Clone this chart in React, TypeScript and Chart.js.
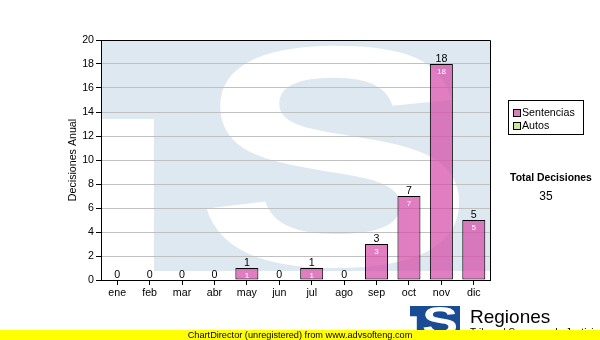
import React, { useEffect, useRef } from 'react';
import { Chart, registerables } from 'chart.js';

Chart.register(...registerables);

// ---- data ----
const MONTHS = ['ene', 'feb', 'mar', 'abr', 'may', 'jun', 'jul', 'ago', 'sep', 'oct', 'nov', 'dic'];
const SENTENCIAS = [0, 0, 0, 0, 1, 0, 1, 0, 3, 7, 18, 5];
const AUTOS = [0, 0, 0, 0, 0, 0, 0, 0, 0, 0, 0, 0];
const SERIES_NAMES = ['Sentencias', 'Autos'];
const Y_MIN = 0;
const Y_MAX = 20;
const Y_STEP = 2;
const Y_TITLE = 'Decisiones Anual';
const TOTAL_LABEL = 'Total Decisiones';
const BRAND = 'Regiones';
const BRAND_SUB = 'Tribunal Supremo de Justicia';
const FOOTER = 'ChartDirector (unregistered) from www.advsofteng.com';

const FONT = '"Liberation Sans", Arial, sans-serif';
const PINK_BAR = 'rgba(212,76,169,0.72)';
const PINK_SWATCH = 'rgb(221,122,192)';
const GREEN_SWATCH = 'rgb(206,232,155)';
const WATERMARK_BLUE = 'rgb(222,232,241)';
const LOGO_BLUE = 'rgb(26,76,150)';

function drawS(ctx: CanvasRenderingContext2D, x: number, y: number, w: number, h: number) {
  ctx.save();
  ctx.font = `bold 100px ${FONT}`;
  ctx.textAlign = 'left';
  ctx.textBaseline = 'alphabetic';
  const m = ctx.measureText('S');
  const bw = m.actualBoundingBoxLeft + m.actualBoundingBoxRight;
  const bh = m.actualBoundingBoxAscent + m.actualBoundingBoxDescent;
  ctx.translate(x, y);
  ctx.scale(w / bw, h / bh);
  ctx.fillStyle = '#ffffff';
  ctx.fillText('S', m.actualBoundingBoxLeft, m.actualBoundingBoxAscent);
  ctx.restore();
}

function drawLogo(ctx: CanvasRenderingContext2D, x: number, y: number, w: number, h: number, blue: string) {
  ctx.save();
  ctx.fillStyle = blue;
  ctx.fillRect(x, y, w, h);
  ctx.fillStyle = '#ffffff';
  ctx.fillRect(x, y + 0.342 * h, 0.136 * w, h * 0.658);
  drawS(ctx, x + 0.262 * w, y + 0.022 * h, 0.661 * w, 0.965 * h);
  ctx.restore();
}

const decorPlugin = {
  id: 'decor',
  beforeDraw(chart: any) {
    const { ctx, chartArea: a } = chart;
    ctx.save();
    ctx.fillStyle = '#ffffff';
    ctx.fillRect(0, 0, chart.width, chart.height);
    ctx.beginPath();
    ctx.rect(a.left, a.top, a.right - a.left, a.bottom - a.top);
    ctx.clip();
    const w = a.right - a.left;
    const h = (a.bottom - a.top) * 0.9625;
    drawLogo(ctx, a.left, a.top, w, h, WATERMARK_BLUE);
    ctx.restore();
  },
  afterDatasetsDraw(chart: any) {
    const { ctx } = chart;
    const meta = chart.getDatasetMeta(0);
    ctx.save();
    ctx.textAlign = 'center';
    ctx.textBaseline = 'alphabetic';
    meta.data.forEach((bar: any, i: number) => {
      const v = SENTENCIAS[i];
      ctx.fillStyle = '#000000';
      ctx.font = `10.67px ${FONT}`;
      ctx.fillText(String(v), bar.x, bar.y - 2);
      if (v > 0) {
        ctx.fillStyle = '#ffffff';
        ctx.font = `8px ${FONT}`;
        ctx.fillText(String(v), bar.x, bar.y + 10);
      }
    });
    ctx.restore();
  },
  afterDraw(chart: any) {
    const { ctx, chartArea: a } = chart;
    ctx.save();
    // plot frame (top & right)
    ctx.strokeStyle = '#000000';
    ctx.lineWidth = 1;
    ctx.beginPath();
    ctx.moveTo(a.left, a.top + 0.5);
    ctx.lineTo(a.right + 0.5, a.top + 0.5);
    ctx.lineTo(a.right + 0.5, a.bottom);
    ctx.stroke();

    // y title
    ctx.save();
    ctx.translate(73, (a.top + a.bottom) / 2);
    ctx.rotate(-Math.PI / 2);
    ctx.fillStyle = '#000000';
    ctx.font = `10.67px ${FONT}`;
    ctx.textAlign = 'center';
    ctx.textBaseline = 'middle';
    ctx.fillText(Y_TITLE, 0, 0);
    ctx.restore();

    // legend
    ctx.strokeStyle = '#000000';
    ctx.strokeRect(508.5, 100.5, 75, 34);
    const swatches = [PINK_SWATCH, GREEN_SWATCH];
    ctx.font = `10.67px ${FONT}`;
    ctx.textAlign = 'left';
    ctx.textBaseline = 'middle';
    SERIES_NAMES.forEach((name, i) => {
      const cy = 113 + i * 13;
      ctx.fillStyle = swatches[i];
      ctx.fillRect(513, cy - 4, 7, 7);
      ctx.strokeRect(513.5, cy - 3.5, 7, 7);
      ctx.fillStyle = '#000000';
      ctx.fillText(name, 522, cy);
    });

    // total
    const total = SENTENCIAS.reduce((s, v) => s + v, 0) + AUTOS.reduce((s, v) => s + v, 0);
    ctx.textAlign = 'center';
    ctx.font = `bold 10.4px ${FONT}`;
    ctx.fillText(TOTAL_LABEL, 551, 178);
    ctx.font = `12px ${FONT}`;
    ctx.fillText(String(total), 546, 197);

    // brand logo
    drawLogo(ctx, 410, 306, 50, 30, LOGO_BLUE);
    ctx.fillStyle = '#000000';
    ctx.textAlign = 'left';
    ctx.textBaseline = 'alphabetic';
    ctx.font = `19px ${FONT}`;
    ctx.fillText(BRAND, 470, 323);
    ctx.font = `10px ${FONT}`;
    ctx.fillText(BRAND_SUB, 470, 336);

    // footer bar
    ctx.fillStyle = '#ffff00';
    ctx.fillRect(0, 330, chart.width, 10);
    ctx.fillStyle = '#000000';
    ctx.font = `9.2px ${FONT}`;
    ctx.textAlign = 'center';
    ctx.textBaseline = 'middle';
    ctx.fillText(FOOTER, 300, 335.5);
    ctx.restore();
  },
};

export default function App() {
  const ref = useRef<HTMLCanvasElement | null>(null);

  useEffect(() => {
    if (!ref.current) return;
    Chart.defaults.font.family = FONT;
    const chart = new Chart(ref.current, {
      type: 'bar',
      data: {
        labels: MONTHS,
        datasets: [
          {
            label: SERIES_NAMES[0],
            data: SENTENCIAS,
            backgroundColor: PINK_BAR,
            borderColor: '#000000',
            borderWidth: 1,
            borderSkipped: false,
            barPercentage: 0.71,
            categoryPercentage: 1,
          },
          {
            label: SERIES_NAMES[1],
            data: AUTOS,
            backgroundColor: GREEN_SWATCH,
            borderColor: '#000000',
            borderWidth: 0,
            barPercentage: 0.71,
            categoryPercentage: 1,
          },
        ],
      },
      options: {
        responsive: false,
        animation: false,
        devicePixelRatio: 1,
        layout: { padding: { top: 40, right: 110, left: 0, bottom: 0 } },
        plugins: { legend: { display: false }, tooltip: { enabled: false } },
        scales: {
          x: {
            stacked: true,
            afterFit: (s: any) => { s.height = 60; },
            grid: { display: true, drawOnChartArea: false, drawTicks: true, tickLength: 5, tickColor: '#000000', offset: false },
            border: { display: true, color: '#000000', width: 1 },
            ticks: { color: '#000000', font: { size: 10.67 }, padding: 2, maxRotation: 0, autoSkip: false },
          },
          y: {
            stacked: true,
            min: Y_MIN,
            max: Y_MAX,
            afterFit: (s: any) => { s.width = 101; },
            grid: { color: '#c0c0c0', tickColor: '#000000', tickLength: 5, drawTicks: true },
            border: { display: true, color: '#000000', width: 1 },
            ticks: { stepSize: Y_STEP, color: '#000000', font: { size: 10.67 }, padding: 2 },
          },
        },
      },
      plugins: [decorPlugin],
    } as any);
    return () => chart.destroy();
  }, []);

  return (
    <div style={{ position: 'absolute', left: 0, top: 0, width: 600, height: 340, background: '#fff' }}>
      <canvas ref={ref} width={600} height={340} style={{ display: 'block', width: 600, height: 340 }} />
    </div>
  );
}
